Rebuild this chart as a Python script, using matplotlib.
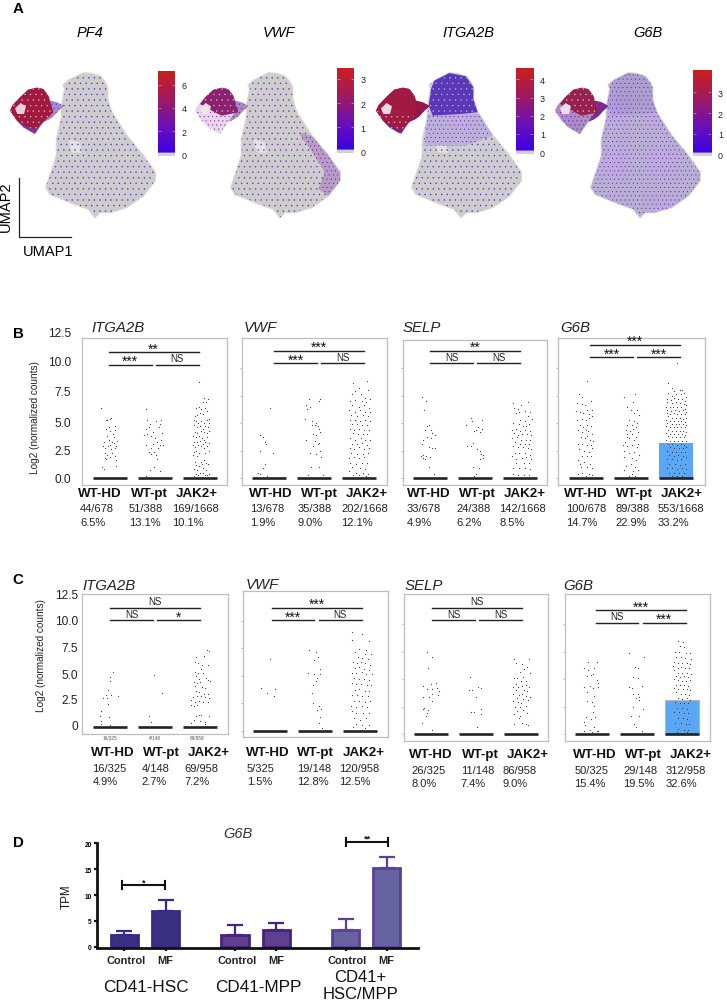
import numpy as np
import matplotlib as mpl
mpl.use('Agg')
import matplotlib.pyplot as plt
from matplotlib.colors import LinearSegmentedColormap
from matplotlib.patches import Polygon

plt.rcParams['font.family'] = ['Liberation Sans', 'DejaVu Sans']
plt.rcParams['hatch.linewidth'] = 0.2
W, H = 727, 1003
fig = plt.figure(figsize=(W / 100, H / 100), dpi=100, facecolor='white')

# ---------- panel A: UMAP outline regions ----------
BODY = [(250,222),(275,224),(300,232),(315,250),(322,265),(322,300),(335,340),(380,410),(430,470),(465,520),(465,545),(430,590),(380,625),(330,640),(300,640),(285,655),(265,630),(215,612),(150,585),(138,565),(150,530),(170,470),(170,420),(185,355),(185,320),(195,270),(190,258),(205,245)]
HEAD = [(205,245),(250,222),(300,232),(322,265),(322,300),(335,340),(280,345),(200,350),(188,320),(195,270)]
MID = [(185,345),(280,340),(340,345),(380,410),(300,440),(175,440)]
NOTCH = [(205,420),(240,430),(245,462),(215,460)]
EDGE = [(380,410),(430,470),(465,520),(465,545),(430,590),(400,570),(420,520),(375,450),(340,400)]
LOBE = [(30,335),(38,318),(60,295),(70,285),(85,272),(110,266),(130,270),(145,290),(150,305),(170,310),(185,318),(190,322),(175,335),(160,352),(145,362),(130,368),(115,390),(105,405),(95,400),(70,385),(50,365)]
CORE = [(30,335),(38,318),(60,295),(85,272),(110,266),(130,270),(145,290),(150,305),(160,340),(135,365),(105,392),(70,378),(50,362)]
UPPER = [(45,315),(60,295),(85,272),(110,266),(130,270),(145,290),(150,305),(160,340),(110,350),(70,330)]
HOLE = [(45,328),(62,312),(78,322),(72,345),(52,345)]
BRIDGE = [(150,305),(170,310),(185,318),(190,322),(175,335),(160,352),(145,362),(130,368),(150,340)]
LOWER_LOBE = [(30,335),(70,335),(120,345),(150,345),(130,368),(115,390),(105,405),(95,400),(70,385),(50,365)]

UMAP_GENES = ['PF4', 'VWF', 'ITGA2B', 'G6B']
CB_TICKS = [[0, 2, 4, 6], [0, 1, 2, 3], [0, 1, 2, 3, 4], [0, 1, 2, 3]]
CB_RANGE = [(-0.14, 7.14), (-0.07, 3.45), (-0.09, 4.63), (-0.08, 4.08)]

# ---------- panels B / C: dots (offset from category, log2 value) ----------
B_ITGA_HD = [(-.19,6.4),(-.1,5.3),(-.06,5.25),(-.01,5.4),(.03,5.45),(-.08,4.5),(-.03,4.6),(.1,4.7),(.11,4.4),(.01,4.3),(.08,3.7),(.16,3.4),(-.13,3.3),(-.07,3.8),(-.03,3.5),(.04,3.3),(.09,3.2),(-.15,2.9),(-.11,2.7),(-.04,2.9),(.02,2.6),(.1,2.7),(.14,2.9),(-.12,2.3),(-.07,2.1),(.01,1.9),(.1,2.0),(.13,1.6),(-.12,1.8),(-.08,1.7),(.13,1.1),(-.18,1.0),(-.13,.8),(.05,2.3),(-.01,3.0),(.06,4.0)]
B_ITGA_PT = [(-.19,6.3),(-.17,5.3),(-.12,4.9),(.02,5.2),(.13,5.3),(.1,4.9),(-.2,4.5),(-.14,4.6),(.08,4.6),(-.25,3.9),(-.17,4.0),(-.1,3.8),(0,3.6),(.05,3.3),(.13,3.5),(-.2,3.0),(-.05,3.1),(.1,3.0),(.18,3.0),(-.14,2.4),(-.08,2.2),(-.03,2.4),(.02,2.1),(-.1,2.7),(.05,1.7),(-.03,1.0),(-.12,.7),(.12,.6),(-.2,.2),(.15,4.1),(-.04,4.2),(.07,2.7)]
B_ITGA_JAK = [(-.02,8.7),(.09,7.3),(.17,7.2),(.06,6.9),(.13,6.9),(-.08,6.4),(-.03,6.5),(.02,6.3),(.11,6.4),(-.11,5.6),(-.06,5.7),(.0,5.9),(.07,5.8),(.15,6.1),(.19,5.4),(-.14,5.3),(-.09,5.2),(-.04,5.0),(.03,5.2),(.09,5.0),(.15,5.3),(.2,5.0),(-.14,4.8),(-.07,4.6),(-.01,4.7),(.06,4.5),(.12,4.7),(.17,4.6),(-.12,4.2),(-.06,4.1),(.02,4.3),(.08,4.2),(.15,4.1),(.2,4.3),(-.15,3.8),(-.09,3.7),(-.02,3.8),(.04,3.6),(.09,3.5),(.16,3.7),(-.13,3.3),(-.07,3.3),(0,3.4),(.07,3.1),(.12,3.3),(.19,3.2),(-.16,3.0),(-.11,2.8),(-.05,3.0),(.02,2.9),(.09,2.7),(.15,2.9),(-.14,2.4),(-.08,2.5),(-.02,2.3),(.11,2.3),(.19,2.5),(-.15,2.1),(-.06,2.0),(.02,1.5),(.08,1.6),(-.12,1.5),(.13,1.4),(-.09,1.2),(-.02,1.1),(.04,1.3),(.17,1.3),(-.14,.8),(-.07,.7),(.07,.9),(.14,.7),(-.1,.4),(-.01,.5),(.06,.5),(.11,.3),(.19,.4),(-.13,.2),(-.04,.3),(.15,.3)]
B_VWF_HD = [(.02,6.4),(-.2,3.95),(-.14,3.7),(-.08,3.3),(-.06,3.1),(-.19,2.5),(.08,2.25),(-.1,1.3),(-.13,.9),(-.25,.5),(-.2,.4),(-.05,.15)]
B_VWF_PT = [(-.12,7.2),(.14,7.2),(.1,7.0),(-.18,6.6),(-.1,6.5),(-.15,6.3),(-.19,5.4),(-.05,5.2),(.05,5.0),(-.04,4.8),(.02,4.85),(.08,4.7),(.12,4.5),(.14,4.2),(-.02,4.0),(.05,3.9),(-.18,3.5),(.03,3.4),(.08,3.1),(.12,3.2),(.14,2.5),(-.03,2.9),(-.1,2.3),(.05,2.2),(.16,1.9),(-.07,1.0),(.12,1.0),(-.14,.3),(.2,.3)]
B_VWF_JAK = [(-.14,8.6),(.18,8.8),(.0,8.2),(-.09,7.9),(.21,8.0),(-.16,7.6),(.04,7.6),(.13,7.3),(.24,7.2),(-.2,7.0),(-.08,7.1),(.06,7.0),(.16,6.9),(-.15,6.6),(-.01,6.5),(.1,6.6),(.22,6.4),(-.22,6.2),(-.1,6.0),(.03,6.2),(.14,6.0),(.24,6.0),(-.17,5.7),(-.05,5.6),(.08,5.7),(.19,5.6),(-.2,5.3),(-.09,5.3),(.03,5.2),(.14,5.3),(.24,5.2),(-.16,4.9),(-.04,4.9),(.06,4.8),(.18,4.8),(-.21,4.5),(-.11,4.4),(.01,4.5),(.11,4.4),(.22,4.4),(-.14,4.1),(-.02,4.0),(.08,4.0),(.18,4.0),(-.2,3.6),(-.09,3.5),(.04,3.6),(.14,3.5),(.24,3.5),(-.16,3.1),(-.05,3.1),(.07,3.2),(.18,3.0),(-.21,2.7),(-.11,2.6),(.01,2.8),(.12,2.6),(.22,2.7),(-.17,2.3),(-.04,2.2),(.08,2.2),(.19,2.3),(-.22,1.8),(-.12,1.9),(.0,1.8),(.12,1.9),(-.19,1.4),(-.07,1.3),(.06,1.4),(.18,1.4),(-.16,1.0),(.02,.9),(.14,.8),(-.22,.6),(-.06,.5),(.08,.5),(.21,.4),(-.14,.3),(.01,.3),(.16,.2)]
B_SELP_HD = [(-.17,7.4),(-.08,7.0),(-.14,6.2),(-.02,4.8),(-.06,4.7),(.03,4.4),(-.12,4.4),(.05,4.1),(.1,3.9),(-.07,3.7),(-.16,3.5),(.02,3.6),(-.18,3.1),(-.03,2.8),(.04,2.7),(.1,2.7),(-.2,2.0),(-.15,2.1),(-.09,2.0),(-.11,1.7),(.0,1.9),(-.02,1.0),(.08,.4),(-.16,1.8)]
B_SELP_PT = [(-.1,5.5),(.15,5.3),(-.2,4.8),(-.07,5.2),(-.03,4.3),(.07,4.6),(.15,4.5),(.02,4.4),(.12,4.2),(-.17,2.9),(-.1,2.9),(-.05,3.2),(.04,2.6),(.1,2.5),(.18,2.1),(.17,1.8),(.1,1.7),(-.05,1.0),(.08,.9),(.02,.4),(-.03,.2),(.14,2.2)]
B_SELP_JAK = [(-.15,6.8),(.18,6.9),(.03,6.6),(-.14,6.4),(-.04,6.3),(.1,6.1),(.22,6.0),(-.03,6.0),(-.1,5.9),(.18,5.6),(.26,5.4),(.0,5.3),(.1,5.2),(-.15,5.0),(-.03,4.9),(.2,4.9),(.06,4.7),(.13,4.7),(-.18,4.4),(-.08,4.5),(0,4.3),(.12,4.4),(.22,4.3),(-.13,4.1),(-.05,3.9),(.05,4.0),(.16,4.0),(.25,3.9),(-.17,3.6),(-.07,3.7),(.03,3.5),(.13,3.5),(.22,3.5),(-.12,3.3),(.0,3.1),(.1,3.1),(.2,3.1),(-.16,2.9),(-.05,2.8),(.07,2.8),(.17,2.7),(.25,2.6),(-.12,2.3),(-.02,2.3),(.1,2.3),(.22,2.1),(-.17,2.0),(.04,1.8),(.14,1.9),(-.08,1.4),(.08,1.4),(.2,1.4),(-.15,.9),(-.03,.9),(.12,.9),(.22,.8),(-.15,.4),(-.05,.3),(.08,.3),(.2,.3),(-.1,1.7),(.24,1.7)]
B_G6B_HD = [(.02,8.8),(-.16,7.6),(-.09,7.4),(.1,7.0),(-.19,6.8),(-.1,6.7),(-.03,6.6),(.02,6.2),(.13,6.2),(-.22,6.1),(-.14,6.0),(-.07,5.9),(.07,5.8),(.14,5.6),(-.2,5.3),(-.1,5.4),(-.01,5.3),(.06,5.5),(-.14,4.8),(-.06,4.6),(.03,4.8),(.12,4.7),(-.17,4.4),(-.08,4.2),(.05,4.3),(.14,4.0),(-.12,3.7),(-.02,3.6),(.08,3.5),(.16,3.4),(-.18,3.1),(-.08,3.1),(.02,3.0),(.11,3.0),(-.15,2.6),(-.05,2.5),(.06,2.4),(.14,2.7),(-.1,2.0),(.02,2.0),(.12,2.0),(-.17,1.6),(-.05,1.5),(.08,1.3),(-.12,1.0),(.02,1.0),(.13,.9),(-.17,.4),(-.08,.5),(.06,.4),(.14,.3),(-.01,.2),(-.14,1.3),(.03,3.8),(-.01,4.4)]
B_G6B_PT = [(-.15,7.4),(.08,7.6),(.05,6.9),(-.09,6.5),(.0,6.2),(.13,6.2),(.07,5.9),(.17,5.7),(-.04,5.3),(.07,5.2),(.14,5.0),(-.09,4.8),(.02,4.8),(.12,4.6),(-.12,4.4),(-.03,4.3),(.05,4.5),(.16,4.2),(-.09,4.0),(.03,4.0),(.11,3.7),(-.14,3.3),(-.04,3.6),(.07,3.5),(.16,3.1),(-.18,3.0),(-.1,2.9),(.02,3.0),(.13,2.8),(-.16,2.5),(-.05,2.3),(.06,2.4),(.17,2.1),(-.15,1.9),(.03,1.8),(.12,1.6),(-.12,1.1),(.0,1.3),(.08,1.0),(-.15,.7),(.05,.6),(.15,.7),(-.05,.2),(.02,.4),(.08,.2),(-.08,3.7)]
B_G6B_JAK = [(.03,10.5),(-.17,8.6),(-.08,8.2),(.14,8.0),(-.05,7.9),(.08,8.0),(-.17,7.7),(-.1,7.5),(0,7.6),(.1,7.6),(.18,7.7),(.22,7.4),(-.2,7.2),(-.12,7.1),(-.04,7.3),(.05,7.2),(.14,7.2),(.2,7.0),(-.19,6.9),(-.1,6.8),(-.01,6.9),(.08,6.8),(.17,6.7),(.23,6.6),(-.22,6.5),(-.14,6.5),(-.06,6.5),(.03,6.5),(.12,6.5),(.2,6.3),(-.19,6.2),(-.11,6.1),(-.02,6.2),(.06,6.1),(.15,6.2),(.22,6.0),(-.21,5.9),(-.13,5.8),(-.05,5.9),(.03,5.8),(.11,5.8),(.19,5.8),(-.18,5.6),(-.09,5.5),(0,5.5),(.08,5.5),(.16,5.4),(.23,5.5),(-.22,5.3),(-.14,5.2),(-.05,5.2),(.04,5.2),(.12,5.2),(.2,5.1),(-.19,5.0),(-.1,4.9),(-.01,4.9),(.07,4.9),(.16,4.9),(.23,4.8),(-.22,4.7),(-.14,4.6),(-.05,4.6),(.03,4.6),(.12,4.6),(.2,4.6),(-.18,4.4),(-.09,4.3),(0,4.3),(.08,4.3),(.16,4.3),(.23,4.2),(-.22,4.1),(-.13,4.0),(-.04,4.0),(.05,4.0),(.13,4.0),(.2,3.9),(-.18,3.8),(-.09,3.7),(.01,3.7),(.09,3.7),(.17,3.7),(-.22,3.5),(-.13,3.4),(-.04,3.4),(.05,3.4),(.14,3.4),(.22,3.4),(-.18,3.1),(-.08,3.1),(.02,3.0),(.1,3.1),(.18,3.0),(-.14,2.8),(-.04,2.7),(.06,2.7),(.15,2.7),(.23,2.8),(-.2,2.5),(-.1,2.4),(.0,2.4),(.1,2.4),(.2,2.4),(-.15,2.1),(-.05,2.0),(.05,2.1),(.16,2.0),(.23,1.9),(-.2,1.7),(-.1,1.7),(.02,1.6),(.12,1.7),(-.16,1.3),(-.03,1.3),(.08,1.2),(.2,1.3),(-.2,.9),(-.1,.9),(.03,.8),(.14,.9),(.22,.8),(-.16,.5),(-.05,.5),(.07,.5),(.18,.5),(-.1,.2),(.03,.2),(.14,.2)]
C_ITGA_HD = [(.07,5.3),(0,4.8),(-.01,4.4),(-.05,3.6),(.02,3.1),(.17,3),(-.09,3.1),(-.16,2.8),(-.06,2.8),(-.04,2.2),(-.19,1.6),(-.03,1.0),(-.22,1.1),(-.21,.6),(-.2,.3),(0,.2)]
C_ITGA_PT = [(-.02,5.0),(.16,3.3),(-.13,1.05),(-.09,.5)]
C_ITGA_JAK = [(.16,7.4),(.2,7.3),(-.09,6.7),(.08,6.8),(-.11,6.2),(-.04,6.1),(.04,5.9),(.18,5.9),(.03,5.6),(-.11,5.3),(-.05,5.2),(.07,5.2),(-.1,4.9),(.13,4.7),(-.02,4.6),(.18,4.5),(.22,4.4),(-.13,4.3),(-.06,4.2),(.01,4.3),(-.12,3.9),(.05,3.8),(.12,3.7),(-.09,3.5),(-.03,3.4),(.08,3.2),(.18,3.2),(-.16,2.9),(-.07,3.0),(.02,3.0),(.1,2.9),(.2,2.8),(-.19,2.6),(-.11,2.4),(-.02,2.5),(.06,2.4),(.17,2.4),(-.2,2.1),(-.13,2.0),(-.06,2.1),(-.03,1.2),(.02,1.2),(-.09,1.1),(.2,1.1),(-.13,.7),(.0,.6),(.1,.5),(-.2,.4),(.12,.3),(.14,.1)]
C_VWF_HD = [(0,6.5),(-.2,3.9),(.11,3.75),(-.06,3.4),(.08,3.1)]
C_VWF_PT = [(-.13,7.3),(.03,7.1),(-.02,6.4),(.12,5.6),(.07,6.7),(-.15,5.2),(-.02,5.1),(.1,5.1),(.04,4.8),(-.05,4.1),(-.07,3.4),(.08,2.2),(.14,2.0),(.04,1.9),(.1,1.2),(.08,.7),(.15,.2),(-.04,2.5),(.02,4.5)]
C_VWF_JAK = [(-.18,9.0),(.05,8.8),(-.18,8.2),(.2,8.1),(-.03,7.4),(.13,7.3),(-.12,7.1),(.1,7.0),(.25,7.0),(-.05,6.7),(.05,6.6),(.18,6.5),(-.15,6.2),(-.06,6.1),(.02,6.2),(.1,6.1),(.22,6.0),(-.12,5.7),(-.02,5.8),(.08,5.6),(.2,5.5),(-.17,5.2),(-.08,5.2),(.04,5.3),(.14,5.1),(.26,5.1),(-.13,4.8),(-.02,4.7),(.09,4.7),(.2,4.6),(-.18,4.3),(-.08,4.2),(.03,4.2),(.15,4.1),(.25,4.1),(-.12,3.7),(-.02,3.8),(.1,3.6),(.2,3.6),(-.17,3.2),(-.06,3.2),(.05,3.1),(.17,3.1),(-.14,2.7),(-.03,2.7),(.1,2.6),(.22,2.7),(-.2,2.2),(-.08,2.1),(.04,2.2),(.16,2.1),(-.17,1.8),(-.1,1.6),(.07,1.6),(.2,1.6),(-.14,1.1),(.0,1.0),(.14,1.1),(-.1,.6),(.05,.5),(.2,.5),(-.15,.3),(.1,.2)]
C_SELP_HD = [(-.1,7.5),(.03,7.0),(-.07,6.0),(.0,4.6),(.1,4.7),(-.17,4.4),(.14,4.2),(-.08,4.1),(.02,4.1),(.18,3.9),(.02,3.7),(.15,3.6),(-.18,3.4),(.02,3.0),(-.15,2.4),(-.18,2.3),(-.06,2.2),(-.09,1.9),(-.12,1.7),(-.19,1.0),(.02,.35),(-.05,3.4)]
C_SELP_PT = [(-.13,5.2),(-.1,4.0),(-.15,4.0),(.04,4.3),(.1,4.2),(-.01,3.4),(.12,2.3),(-.12,2.0),(-.05,2.0),(.1,1.8),(.02,.7)]
C_SELP_JAK = [(-.15,6.8),(.17,6.8),(-.12,6.5),(.02,6.4),(.13,6.1),(.07,5.9),(-.02,5.7),(.2,5.6),(-.16,5.1),(-.08,5.1),(.04,5.2),(-.01,4.8),(.1,4.8),(-.12,4.6),(.12,4.5),(-.17,4.3),(-.06,4.3),(.03,4.4),(.17,4.3),(-.12,4.0),(.07,4.0),(.14,3.9),(-.18,3.7),(-.04,3.6),(.02,3.7),(.12,3.5),(.2,3.4),(-.1,3.3),(.05,3.2),(.15,3.1),(-.18,3.0),(-.07,2.9),(.0,2.8),(-.14,2.5),(-.03,2.5),(.1,2.6),(-.09,2.1),(.05,2.2),(-.15,1.8),(-.02,1.7),(.03,1.0),(-.15,.9),(.1,.9),(.16,.8),(-.04,1.5),(.13,1.9)]
C_G6B_HD = [(-.08,6.6),(.1,6.6),(-.18,6.0),(.05,6.0),(-.1,5.8),(.02,5.5),(-.12,5.3),(-.02,5.4),(.1,4.9),(.14,4.7),(-.17,4.3),(-.04,4.4),(.02,4.2),(.13,4.3),(-.12,3.8),(.05,3.5),(-.11,3.0),(.0,2.9),(.05,2.6),(.02,2.0),(-.13,1.6),(-.02,1.4),(-.18,1.1),(.07,1.6),(-.16,.8),(.04,.7),(-.05,.4),(.1,.3),(-.18,.3),(.0,.2),(.14,.3)]
C_G6B_PT = [(-.17,7.4),(.15,7.0),(-.05,6.1),(.02,6.0),(-.1,5.2),(.03,5.1),(-.17,4.3),(-.11,4.2),(.1,4.4),(.02,3.7),(.05,3.4),(-.03,3.3),(.05,3.1),(-.1,2.5),(.14,2.3),(-.13,1.7),(.05,1.7),(-.07,.9),(-.03,.7),(.1,.3),(-.1,3.7)]
C_G6B_JAK = [(-.08,8.5),(.02,8.4),(-.05,8.0),(.04,7.9),(-.15,7.5),(-.07,7.5),(.08,7.4),(.18,7.4),(-.14,7.0),(-.03,7.0),(.07,6.9),(.2,6.8),(-.17,6.6),(-.09,6.5),(.0,6.5),(.1,6.5),(.17,6.4),(-.19,6.2),(-.1,6.0),(-.02,6.1),(.07,6.0),(.16,6.0),(-.17,5.8),(-.08,5.6),(.01,5.6),(.1,5.6),(.19,5.5),(-.14,5.3),(-.04,5.2),(.05,5.3),(.14,5.2),(-.18,5.0),(-.09,4.9),(.0,4.8),(.09,4.8),(.18,4.9),(-.14,4.5),(-.05,4.5),(.05,4.5),(.14,4.4),(-.18,4.2),(-.08,4.1),(.02,4.1),(.11,4.1),(.18,4.0),(-.13,3.8),(-.03,3.7),(.07,3.7),(.16,3.6),(-.1,3.3),(.0,3.2),(.1,3.3),(.17,3.1),(-.15,2.9),(-.05,2.8),(.05,2.8),(.13,2.8),(-.12,2.4),(.0,2.4),(.1,2.3),(-.17,2.0),(-.06,2.0),(.05,1.9),(.14,1.9),(-.1,1.5),(.02,1.5),(.12,1.4),(-.15,1.0),(-.03,1.0),(.08,.9),(.16,.9),(-.08,.5),(.04,.4),(.14,.4),(-.12,.2),(.1,.2)]

GROUPS = ['WT-HD', 'WT-pt', 'JAK2+']
B_ITGA_COUNTS = ['44/678', '51/388', '169/1668']; B_ITGA_PCT = ['6.5%', '13.1%', '10.1%']
B_VWF_COUNTS = ['13/678', '35/388', '202/1668']; B_VWF_PCT = ['1.9%', '9.0%', '12.1%']
B_SELP_COUNTS = ['33/678', '24/388', '142/1668']; B_SELP_PCT = ['4.9%', '6.2%', '8.5%']
B_G6B_COUNTS = ['100/678', '89/388', '553/1668']; B_G6B_PCT = ['14.7%', '22.9%', '33.2%']
C_ITGA_COUNTS = ['16/325', '4/148', '69/958']; C_ITGA_PCT = ['4.9%', '2.7%', '7.2%']
C_VWF_COUNTS = ['5/325', '19/148', '120/958']; C_VWF_PCT = ['1.5%', '12.8%', '12.5%']
C_SELP_COUNTS = ['26/325', '11/148', '86/958']; C_SELP_PCT = ['8.0%', '7.4%', '9.0%']
C_G6B_COUNTS = ['50/325', '29/148', '312/958']; C_G6B_PCT = ['15.4%', '19.5%', '32.6%']
B_G6B_JAK_BAR = 3.18
C_G6B_JAK_BAR = 3.1
YTICK_LABELS = ['0.0', '2.5', '5.0', '7.5', '10.0', '12.5']
C_YTICK_LABELS = ['0', '2.5', '5.0', '7.5', '10.0', '12.5']

# ---------- panel D ----------
D_GROUPS = ['CD41-HSC', 'CD41-MPP', 'CD41+\nHSC/MPP']
D_CATS = ['Control', 'MF']
D_VALUES = [[2.2, 7.0], [2.2, 3.2], [3.3, 15.2]]
D_UPPER = [[3.0, 9.0], [4.2, 4.5], [5.4, 17.3]]

# ---------- helpers ----------
def axpx(x0, x1, y0, y1, **kw):
    return fig.add_axes([x0 / W, 1 - y1 / H, (x1 - x0) / W, (y1 - y0) / H], **kw)

pg = fig.add_axes([0, 0, 1, 1], zorder=10)
pg.set_xlim(0, W); pg.set_ylim(H, 0); pg.axis('off'); pg.patch.set_visible(False)
def txt(x, y, s, size, **kw):
    kw.setdefault('va', 'center'); kw.setdefault('ha', 'center'); kw.setdefault('color', '#1a1a1a')
    pg.text(x, y, s, fontsize=size, **kw)

for x, y, s in [(12.5, 9, 'A'), (12.5, 334, 'B'), (12.5, 580, 'C'), (12.5, 843, 'D')]:
    txt(x, y, s, 10.8, fontweight='bold', ha='left', color='black')

# ---------- panel A drawing ----------
cmap = LinearSegmentedColormap.from_list('expr', ['#3a00e6', '#6a10b8', '#a01a60', '#c8201c'])
BLUE, PURP, VIO, RED = '#4a18d8', '#6a16b0', '#7a1490', '#a4163c'
SPECK = '#e8c4d0'
GREY = '#cdcdcd'

def reg(ax, pts, face='none', color='none', hatch=None, z=2):
    ax.add_patch(Polygon(pts, closed=True, facecolor=face, edgecolor=color, hatch=hatch, lw=0, zorder=z))

F0, F1 = '...', '....'
LAYERS = [
    [(BODY, 'none', BLUE, F0), (LOBE, '#7a3a98', 'none', None), (BRIDGE, '#a090d0', 'none', None), (BRIDGE, 'none', PURP, F1),
     (CORE, '#a01a40', 'none', None), (CORE, 'none', SPECK, F0), (HOLE, '#ecd0da', 'none', None)],
    [(BODY, 'none', PURP, F0), (EDGE, '#b89cc8', 'none', None), (EDGE, 'none', VIO, F1), (LOBE, '#e6d6e8', 'none', None), (LOWER_LOBE, 'none', VIO, F1),
     (BRIDGE, '#a888c0', 'none', None), (BRIDGE, 'none', VIO, F1), (UPPER, '#8a2270', 'none', None), (UPPER, 'none', SPECK, F0), (HOLE, '#efe2ea', 'none', None)],
    [(BODY, 'none', BLUE, F0), (MID, '#bdb0dc', 'none', None), (MID, 'none', PURP, F1), (HEAD, '#5a38b8', 'none', None), (HEAD, 'none', '#c0b8e4', F0),
     (LOBE, '#7a2080', 'none', None), (CORE, '#a01a42', 'none', None), (BRIDGE, '#96184a', 'none', None), (LOWER_LOBE, 'none', SPECK, F0), (HOLE, '#ecd8e2', 'none', None)],
    [(BODY, '#b8aed6', 'none', None), (BODY, 'none', PURP, F1), (HEAD, '#ad9ed2', 'none', None), (HEAD, 'none', PURP, F1), (LOBE, '#ab8cc4', 'none', None), (LOWER_LOBE, 'none', PURP, F1),
     (BRIDGE, '#7a2a90', 'none', None), (UPPER, '#96204e', 'none', None), (UPPER, 'none', SPECK, F0), (HOLE, '#ecdce6', 'none', None)],
]
UM_OFF = [0, 185, 366, 545]
TITLE_X = [90, 279.3, 468.3, 648.3]
CB_X = [(158.3, 175), (336.7, 353.7), (515.7, 533), (693, 711)]
CB_Y = [(72.3, 157), (69, 154), (69, 154.7), (71, 157)]
for i, gene in enumerate(UMAP_GENES):
    a = axpx(UM_OFF[i], UM_OFF[i] + 166.67, 66, 226)
    a.set_xlim(0, 500); a.set_ylim(678, 198); a.axis('off')
    a.add_patch(Polygon(BODY, closed=True, facecolor='#dcdcdc', edgecolor='#dcdcdc', lw=1.4, zorder=1))
    reg(a, BODY, GREY)
    reg(a, NOTCH, '#e2e2e2')
    for pts, face, col, hat in LAYERS[i]:
        reg(a, pts, face, col, hat)
    txt(TITLE_X[i], 32.7, gene, 10.5, fontstyle='italic', color='black')
    lo, hi = CB_RANGE[i]
    cb = axpx(CB_X[i][0], CB_X[i][1], CB_Y[i][0], CB_Y[i][1])
    grad = np.linspace(lo, hi, 200)[:, None]
    rgba = cmap(np.clip(grad[:, 0] / hi, 0, 1))[:, None, :]
    rgba[grad[:, 0] < 0.02 * hi] = mpl.colors.to_rgba('#d2d2d2')
    cb.imshow(rgba, origin='lower', extent=[0, 1, lo, hi], aspect='auto')
    cb.set_xticks([]); cb.yaxis.tick_right()
    cb.set_yticks(CB_TICKS[i]); cb.set_yticklabels([str(t) for t in CB_TICKS[i]], fontsize=6.4, color='#222')
    cb.tick_params(axis='y', length=0, pad=5)
    for t in CB_TICKS[i][1:]:
        cb.hlines(t, 0, 0.18, color=(1, 1, 1, .45), lw=.6)
        cb.hlines(t, 0.82, 1, color=(1, 1, 1, .45), lw=.6)
    for s in cb.spines.values():
        s.set_visible(False)

pg.plot([19, 19, 71], [179, 238.3, 238.3], color='#222', lw=0.9, solid_joinstyle='miter')
txt(6, 207, 'UMAP2', 10.5, rotation=90, color='black')
txt(48, 252, 'UMAP1', 10.5, color='black')

# ---------- panels B / C drawing ----------
def strip(frame, c0, y_zero, ppu, dots, title, counts, pcts, catx, cnt_x, rows, tkx=True,
          blue=None, sig=None, blue_edge='none'):
    x0, x1, y0, y1 = frame
    ax = axpx(x0, x1, y0, y1)
    ax.set_xlim((x0 - c0) / 45, (x1 - c0) / 45)
    ax.set_ylim((y_zero - y1) / ppu, (y_zero - y0) / ppu)
    for s in ax.spines.values():
        s.set_color('#bdbdbd'); s.set_linewidth(0.9)
    ax.set_xticks([])
    if tkx:
        ax.set_yticks([0, 2.5, 5, 7.5, 10]); ax.set_yticklabels([])
        ax.tick_params(axis='y', length=1.2, width=.5, color='#999')
    else:
        ax.set_yticks([])
    if blue is not None:
        ax.bar(2, blue, width=.756, color='#5aa8f5', edgecolor=blue_edge, lw=.8, zorder=1)
    ax.hlines([0, 0, 0], np.arange(3) - .378, np.arange(3) + .378, color='#222', lw=1.9, zorder=3)
    for k, d in enumerate(dots):
        d = np.array(d)
        ax.scatter(k + d[:, 0], d[:, 1], s=0.75, color='#3a3a3a', linewidths=0, zorder=4)
    txt(title[0], title[1], title[2], 10.8, fontstyle='italic', ha='left', color='#222')
    for k in range(3):
        txt(catx[k], rows[0], GROUPS[k], 9.6, fontweight='bold', color='#111')
        txt(cnt_x[k], rows[1], counts[k], 8, ha='left', color='#222')
        txt(cnt_x[k], rows[2], pcts[k], 8, ha='left', color='#222')
    # significance bars
    dx, ytop, ylow, ltop, lleft, lright = sig
    a, b, c = c0 + dx, c0 + 45 + dx, c0 + 90 + dx
    pg.plot([a, c], [ytop, ytop], color='#222', lw=1.0)
    pg.plot([a, b - 2.2], [ylow, ylow], color='#222', lw=1.0)
    pg.plot([b + 2.2, c], [ylow, ylow], color='#222', lw=1.0)
    for xx, yy, s in [((a + c) / 2, ytop, ltop), ((a + b) / 2 - 1, ylow, lleft), ((b + c) / 2 + 1, ylow, lright)]:
        if s == 'NS':
            pg.text(xx, yy - 1.5, s, fontsize=7, ha='center', va='bottom', color='#222')
        else:
            pg.text(xx, yy + 0.5, s, fontsize=10, ha='center', va='baseline', color='#111')

RB = (494, 509, 522.7)
strip((82, 227, 339, 486), 110, 479, 11, [B_ITGA_HD, B_ITGA_PT, B_ITGA_JAK], (91.7, 328, 'ITGA2B'), B_ITGA_COUNTS, B_ITGA_PCT,
      (100, 149, 196.5), (80, 129, 172.3), RB, tkx=False, sig=(-1.3, 353, 365.7, '**', '***', 'NS'))
strip((242, 387, 339, 486), 269, 479, 11, [B_VWF_HD, B_VWF_PT, B_VWF_JAK], (243.3, 328, 'VWF'), B_VWF_COUNTS, B_VWF_PCT,
      (270.5, 319, 367), (249.7, 297.7, 341), RB, sig=(5, 351.7, 364.3, '***', '***', 'NS'))
strip((403.3, 547.3, 340.7, 485.7), 430, 479, 11, [B_SELP_HD, B_SELP_PT, B_SELP_JAK], (402.3, 328, 'SELP'), B_SELP_COUNTS, B_SELP_PCT,
      (429, 477, 525), (406.7, 456, 499.3), RB, sig=(0, 351.7, 364.3, '**', 'NS', 'NS'))
strip((558, 705, 339, 486), 586, 479, 11, [B_G6B_HD, B_G6B_PT, B_G6B_JAK], (560.7, 328, 'G6B'), B_G6B_COUNTS, B_G6B_PCT,
      (586, 634.5, 682), (566.3, 615, 657.7), RB, blue=B_G6B_JAK_BAR, sig=(4, 345.7, 358.3, '***', '***', '***'))

RC = (753.3, 768.7, 782.3)
RC2 = (755, 770.7, 784)
strip((82.3, 228, 595.3, 735.3), 110, 728.3, 10.5, [C_ITGA_HD, C_ITGA_PT, C_ITGA_JAK], (82, 585.7, 'ITGA2B'), C_ITGA_COUNTS, C_ITGA_PCT,
      (113, 161, 209), (92.5, 141.3, 184.3), RC, tkx=False, sig=(0, 608.7, 621, 'NS', 'NS', '*'))
strip((243.3, 388, 592.3, 738.3), 270, 731.5, 11, [C_VWF_HD, C_VWF_PT, C_VWF_JAK], (245.7, 584.7, 'VWF'), C_VWF_COUNTS, C_VWF_PCT,
      (267.7, 315.5, 364), (247, 296.7, 339.3), RC, sig=(1.5, 608.7, 621, '***', '***', 'NS'))
strip((404, 548.3, 595.3, 742.3), 431, 735.2, 11, [C_SELP_HD, C_SELP_PT, C_SELP_JAK], (405, 586, 'SELP'), C_SELP_COUNTS, C_SELP_PCT,
      (431, 480, 528), (411, 460.7, 502.7), RC2, sig=(1, 608.7, 621, 'NS', 'NS', 'NS'))
strip((564.7, 710.3, 594.7, 742.3), 592, 735.2, 11, [C_G6B_HD, C_G6B_PT, C_G6B_JAK], (563.3, 586, 'G6B'), C_G6B_COUNTS, C_G6B_PCT,
      (594.7, 643, 690.8), (574.3, 623.3, 666), RC2, blue=C_G6B_JAK_BAR, blue_edge='#b5b5b5', sig=(3.5, 611, 623.7, '***', 'NS', '***'))

# tick labels, pasted beside the frames in the original
for lab, y in zip(YTICK_LABELS, [480, 452, 423.7, 393, 362.7, 334]):
    txt(71, y, lab, 8.6, ha='right', color='#222')
for lab, y in zip(C_YTICK_LABELS, [726.7, 701.3, 675.7, 649, 622.3, 596]):
    txt(78.3, y, lab, 8.6, ha='right', color='#222')
txt(35, 417.7, 'Log2 (normalized counts)', 7.2, rotation=90, color='#222')
txt(41, 656, 'Log2 (normalized counts)', 7.2, rotation=90, color='#222')
for x, s in zip((110, 155, 197), C_ITGA_COUNTS):
    txt(x, 739, s, 3.4, color='#555')

# ---------- panel D drawing ----------
GROUP_STEP = 2.68
dax = axpx(96.7, 418, 844.3, 949)
dax.set_xlim((96.7 - 124.2) / 41.3, (418 - 124.2) / 41.3)
dax.set_ylim(-0.25, 20)
dax.patch.set_visible(False)
FACES = ['#3a2f80', '#5f3f8f', '#6663a0']
EDGES = ['#352a85', '#45237f', '#5b3f98']
ticks = []
for g in range(3):
    for j in range(2):
        x = g * GROUP_STEP + j
        ticks.append(x)
        dax.bar(x, D_VALUES[g][j], width=.66, color=FACES[g], edgecolor=EDGES[g], lw=2)
        dax.errorbar(x, D_VALUES[g][j], yerr=[[0], [D_UPPER[g][j] - D_VALUES[g][j]]], color=EDGES[g],
                     capsize=5.5, capthick=1.6, elinewidth=1.6, zorder=1)
for s in ('top', 'right'):
    dax.spines[s].set_visible(False)
for s in ('left', 'bottom'):
    dax.spines[s].set_linewidth(2); dax.spines[s].set_color('#111')
dax.spines['left'].set_bounds(0, 20)
dax.set_yticks([0, 5, 10, 15, 20])
dax.set_yticklabels(['0', '5', '10', '15', '20'], fontsize=4.8, fontweight='bold')
dax.set_xticks(ticks); dax.set_xticklabels([])
dax.tick_params(axis='both', length=2.5, width=1.6, color='#111', pad=1)
for x, s in zip((126, 165.7, 236.7, 276, 346.7, 386.7), D_CATS * 3):
    txt(x, 960.7, s, 7.9, fontweight='bold', color='#222')
txt(146, 987.7, D_GROUPS[0], 12.3, color='#111')
txt(258, 987.7, D_GROUPS[1], 12.3, color='#111')
line1, line2 = D_GROUPS[2].split('\n')
txt(360, 977.5, line1, 12, color='#111')
txt(360, 994.5, line2, 12, color='#111')
txt(66.7, 896.7, 'TPM', 8.4, rotation=90, color='#111')
txt(238, 834, 'G6B', 10.5, fontstyle='italic', color='#333')
for xa, xb, y, s in [(122.3, 165, 886.3, '*'), (345.7, 388.3, 842.7, '**')]:
    pg.plot([xa, xb], [y, y], color='#111', lw=1.5)
    pg.plot([xa, xa], [y - 4, y + 4], color='#111', lw=1.5)
    pg.plot([xb, xb], [y - 4, y + 4], color='#111', lw=1.5)
    pg.text((xa + xb) / 2, y - 1, s, fontsize=6.5, ha='center', va='baseline', fontweight='bold', color='#111')

fig.savefig('out.png', dpi=100)
